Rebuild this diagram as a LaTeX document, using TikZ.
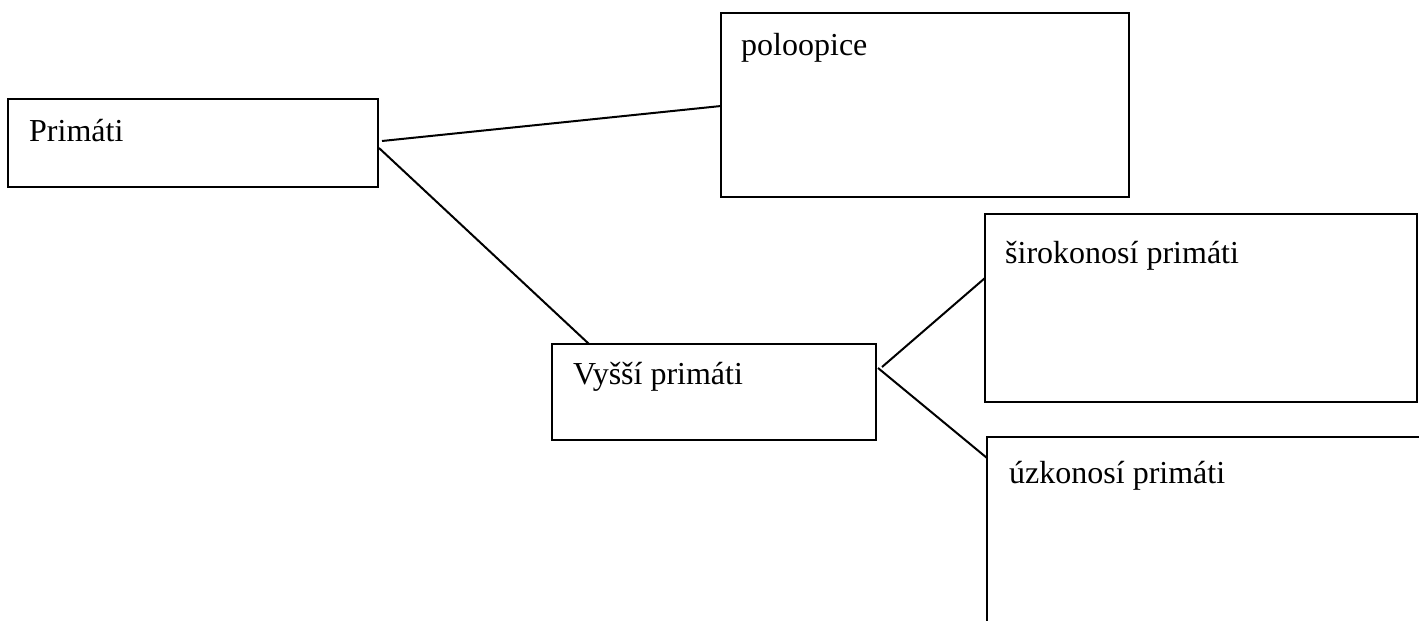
\documentclass[tikz,border=0pt]{standalone}
\usepackage{fontspec}
\setmainfont{Liberation Serif}
\usetikzlibrary{calc}
\tikzset{
  box/.style={draw, line width=2pt, inner sep=0pt, outer sep=0pt, fill=none},
  lbl/.style={anchor=base west, inner sep=0pt, font=\fontsize{32}{38}\selectfont},
  conn/.style={line width=2pt}
}
\begin{document}
\begin{tikzpicture}[x=1pt,y=-1pt]
\useasboundingbox (0,0) rectangle (1419,621);
\clip (0,0) rectangle (1419,621);
\fill[white] (0,0) rectangle (1419,621);
% boxes
\node[box, minimum width=370pt, minimum height=88pt] (prim) at (193,143) {};
\node[box, minimum width=408pt, minimum height=184pt] (polo) at (925,105) {};
\node[box, minimum width=324pt, minimum height=96pt] (vys) at (714,392) {};
\node[box, minimum width=432pt, minimum height=188pt] (sir) at (1201,308) {};
\node[box, minimum width=513pt, minimum height=263pt] (uzk) at (1243.5,568.5) {};
% texts
\node[lbl] (tprim) at (29,141) {Primáti};
\node[lbl] (tpolo) at (741,55) {poloopice};
\node[lbl] (tvys) at (573,384) {Vyšší primáti};
\node[lbl] (tsir) at (1005,263) {širokonosí primáti};
\node[lbl] (tuzk) at (1009,483) {úzkonosí primáti};
% connectors
\draw[conn] ($(prim.east)+(4,-2)$) -- ($(polo.west)+(0,1)$);
\draw[conn] ($(prim.east)+(1,5)$) -- ($(vys.north west)+(37,0)$);
\draw[conn] ($(vys.east)+(6,-25)$) -- ($(sir.north west)+(0,64)$);
\draw[conn] ($(vys.east)+(2,-24)$) -- ($(uzk.north west)+(0,21)$);
\end{tikzpicture}
\end{document}
